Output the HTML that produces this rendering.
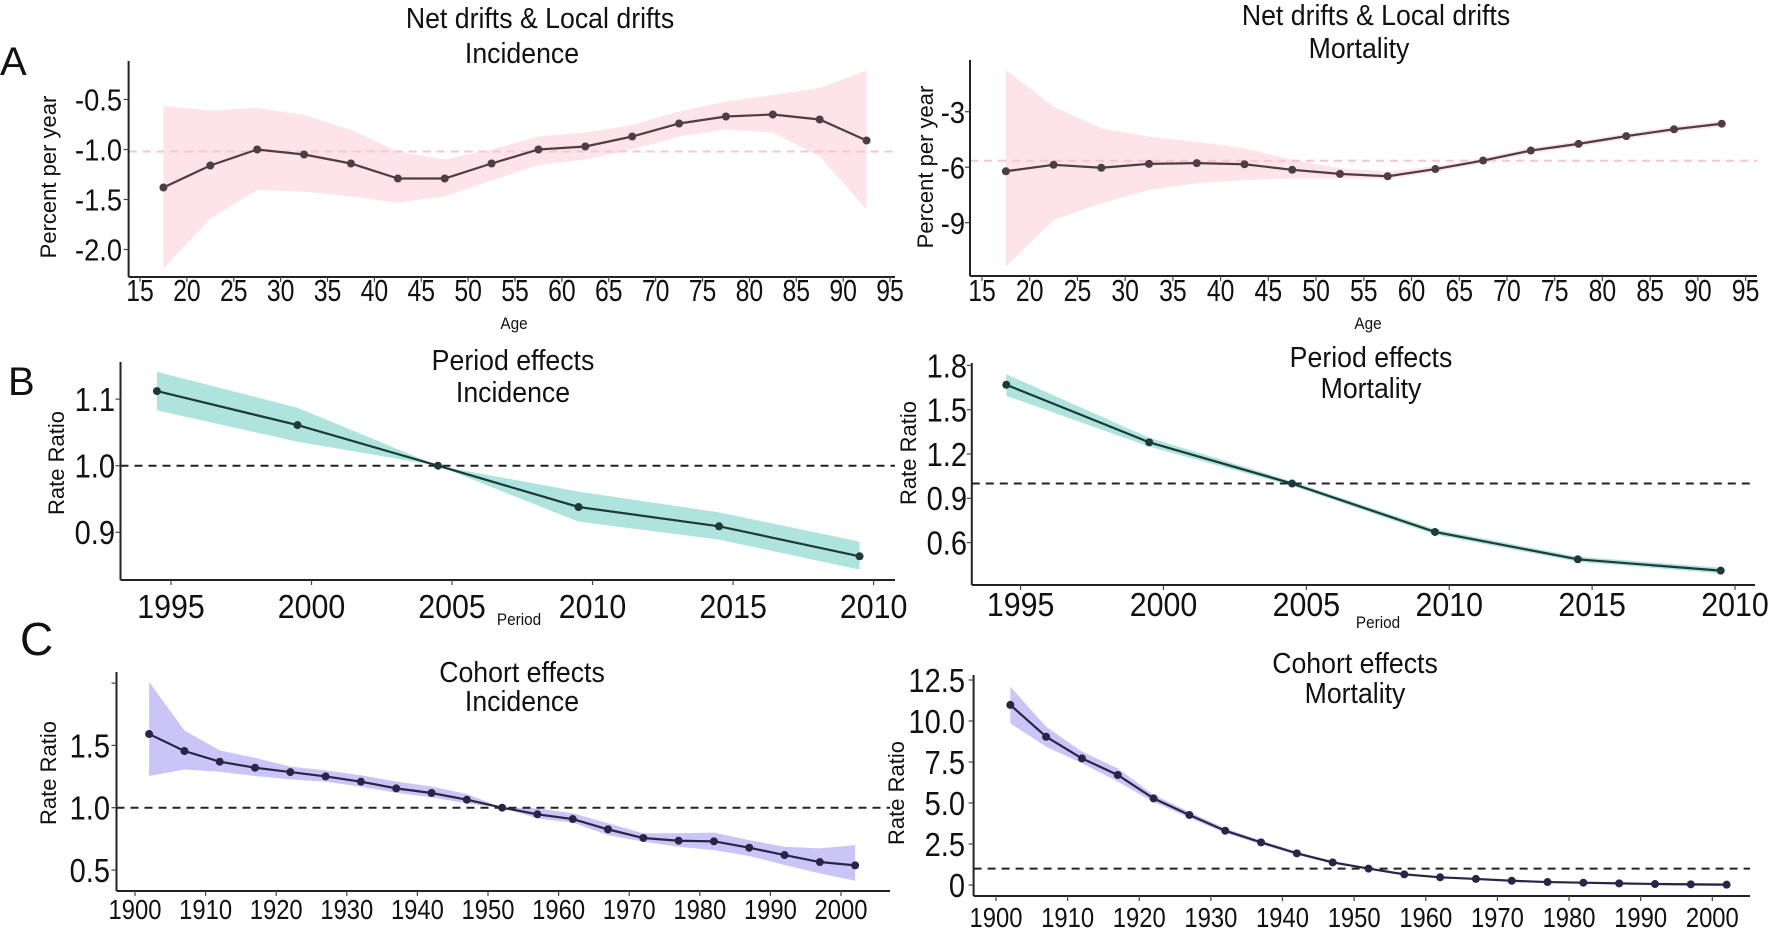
<!DOCTYPE html>
<html><head><meta charset="utf-8"><style>
html,body{margin:0;padding:0;background:#fff;}
svg{display:block;font-family:"Liberation Sans",Arial,sans-serif;}
</style></head><body>
<svg id="fig" width="1771" height="931" viewBox="0 0 1771 931" xmlns="http://www.w3.org/2000/svg"></svg>
<script>
// ---- Data ----
const ageGroups = [17.5,22.5,27.5,32.5,37.5,42.5,47.5,52.5,57.5,62.5,67.5,72.5,77.5,82.5,87.5,92.5];
const incDrift = [-1.38,-1.16,-1.0,-1.05,-1.14,-1.29,-1.29,-1.14,-1.0,-0.97,-0.87,-0.74,-0.67,-0.65,-0.70,-0.91];
const incDriftHi = [-0.565,-0.61,-0.585,-0.655,-0.805,-1.02,-1.1,-1.0,-0.87,-0.83,-0.755,-0.62,-0.52,-0.455,-0.385,-0.21];
const incDriftLo = [-2.19,-1.69,-1.405,-1.42,-1.47,-1.53,-1.47,-1.31,-1.155,-1.1,-1.0,-0.87,-0.8,-0.83,-1.07,-1.6];
const incNetDrift = -1.02;
const morDrift = [-6.22,-5.87,-6.03,-5.82,-5.78,-5.84,-6.14,-6.36,-6.49,-6.10,-5.64,-5.10,-4.74,-4.32,-3.95,-3.65];
const morDriftHi = [-0.75,-2.73,-3.9,-4.35,-4.63,-4.98,-5.6,-6.05,-6.24,-5.95,-5.5,-4.95,-4.6,-4.18,-3.8,-3.5];
const morDriftLo = [-11.38,-8.85,-7.95,-7.23,-6.87,-6.69,-6.6,-6.6,-6.64,-6.25,-5.78,-5.25,-4.88,-4.46,-4.1,-3.8];
const morNetDrift = -5.65;
const ageTicks = [15,20,25,30,35,40,45,50,55,60,65,70,75,80,85,90,95];

const periods = [1994.5,1999.5,2004.5,2009.5,2014.5,2019.5];
const incPeriod = [1.112,1.061,1.0,0.938,0.909,0.864];
const incPeriodHi = [1.141,1.087,1.0,0.961,0.93,0.886];
const incPeriodLo = [1.083,1.036,1.0,0.916,0.889,0.844];
const morPeriod = [1.669,1.279,1.0,0.672,0.487,0.41];
const morPeriodHi = [1.74,1.31,1.015,0.69,0.505,0.43];
const morPeriodLo = [1.594,1.25,0.985,0.654,0.47,0.392];
const periodTickYears = [1995,2000,2005,2010,2015,2020];
const periodTickLabels = ["1995","2000","2005","2010","2015","2010"];

const cohorts = [1902,1907,1912,1917,1922,1927,1932,1937,1942,1947,1952,1957,1962,1967,1972,1977,1982,1987,1992,1997,2002];
const incCohort = [1.591,1.455,1.369,1.321,1.286,1.251,1.209,1.155,1.118,1.064,1.0,0.947,0.909,0.826,0.757,0.735,0.730,0.679,0.620,0.564,0.537];
const incCohortHi = [2.01,1.62,1.46,1.40,1.33,1.30,1.26,1.21,1.17,1.11,1.0,0.995,0.955,0.875,0.795,0.795,0.80,0.74,0.687,0.674,0.70];
const incCohortLo = [1.254,1.307,1.289,1.254,1.227,1.209,1.168,1.12,1.083,1.035,1.0,0.914,0.88,0.78,0.727,0.687,0.66,0.612,0.54,0.473,0.414];
const morCohort = [10.98,9.04,7.72,6.71,5.28,4.27,3.31,2.60,1.93,1.38,1.0,0.65,0.47,0.37,0.26,0.18,0.14,0.10,0.06,0.04,0.02];
const morCohortHi = [12.09,9.65,8.13,7.11,5.5,4.45,3.45,2.72,2.02,1.45,1.04,0.72,0.53,0.43,0.32,0.24,0.2,0.16,0.13,0.12,0.12];
const morCohortLo = [9.86,8.43,7.42,6.3,5.06,4.1,3.17,2.48,1.84,1.31,0.96,0.58,0.41,0.31,0.2,0.12,0.08,0.04,0.0,-0.04,-0.08];
const cohortTicks = [1900,1910,1920,1930,1940,1950,1960,1970,1980,1990,2000];

const incDriftYTicks = [-0.5,-1.0,-1.5,-2.0], incDriftYLabels=["-0.5","-1.0","-1.5","-2.0"];
const morDriftYTicks = [-3,-6,-9], morDriftYLabels=["-3","-6","-9"];
const incPeriodYTicks = [1.1,1.0,0.9], incPeriodYLabels=["1.1","1.0","0.9"];
const morPeriodYTicks = [1.8,1.5,1.2,0.9,0.6], morPeriodYLabels=["1.8","1.5","1.2","0.9","0.6"];
const incCohortYTicks = [2.0,1.5,1.0,0.5], incCohortYLabels=["","1.5","1.0","0.5"];
const morCohortYTicks = [12.5,10,7.5,5,2.5,0], morCohortYLabels=["12.5","10.0","7.5","5.0","2.5","0"];

// ---- helpers ----
const NS="http://www.w3.org/2000/svg";
const svg=document.getElementById('fig');
function mk(tag,attrs,parent){const e=document.createElementNS(NS,tag);for(const k in attrs)e.setAttribute(k,attrs[k]);(parent||svg).appendChild(e);return e;}
function txt(s,x,y,size,anchor,sx,parent,rot){
  const t=mk('text',{x:0,y:0,'font-size':size,'text-anchor':anchor||'middle',fill:'#111',
    transform:`translate(${x},${y})`+(rot?` rotate(${rot})`:'')+` scale(${sx||1},1)`},parent);
  t.textContent=s;return t;
}
function lin(d0,d1,r0,r1){return v=>r0+(v-d0)*(r1-r0)/(d1-d0);}

function panel(o){
  const g=mk('g',{});
  
  
  const X=o.x,Y=o.y;
  let pts=o.xs.map((v,i)=>X(v)+','+Y(o.hi[i]));
  for(let i=o.xs.length-1;i>=0;i--)pts.push(X(o.xs[i])+','+Y(o.lo[i]));
  const band=mk('polygon',{points:pts.join(' '),fill:o.band,stroke:'none'},g);
  
  
  const rl=mk('line',{x1:o.ax,x2:o.axR,y1:Y(o.ref),y2:Y(o.ref),stroke:o.refColor,'stroke-width':2,'stroke-dasharray':'8,6'},g);
  
  
  const ln=mk('polyline',{points:o.xs.map((v,i)=>X(v)+','+Y(o.vals[i])).join(' '),fill:'none',stroke:o.line,'stroke-width':2.2},g);
  
  
  o.xs.forEach((v,i)=>{
    const c=mk('circle',{cx:X(v),cy:Y(o.vals[i]),r:4,fill:o.line},g);
    
    
  });
  const ya=mk('line',{x1:o.ax,x2:o.ax,y1:o.top,y2:o.bot,stroke:'#222','stroke-width':2},g);
  
  
  const xa=mk('line',{x1:o.ax,x2:o.axR,y1:o.bot,y2:o.bot,stroke:'#222','stroke-width':2},g);
  
  
  o.xt.forEach((v,i)=>{
    mk('line',{x1:X(v),x2:X(v),y1:o.bot,y2:o.bot+5,stroke:'#444','stroke-width':1.2},g);
    const t=txt(o.xl[i],X(v),o.xlY,o.xfs,'middle',o.xsx,g);
    
    
  });
  o.yt.forEach((v,i)=>{
    mk('line',{x1:o.ax-5,x2:o.ax,y1:Y(v),y2:Y(v),stroke:'#444','stroke-width':1.2},g);
    const t=txt(o.yl[i],o.ylX,Y(v)+o.yfs*0.36,o.yfs,'end',o.ysx,g);
    
    
  });
  const yt=txt(o.ytitle,o.ytX,o.ytY,o.ytfs,'middle',1,g,-90);
  
  
  if(o.xtitle){const xt=txt(o.xtitle,o.xtX,o.xtY,17,'middle',0.9,g);
    
    }
  const t1=txt(o.t1,o.tX,o.t1Y,29,'middle',0.92,g);
  
  
  const t2=txt(o.t2,o.tX2||o.tX,o.t2Y,29,'middle',0.92,g);
  
  
}
const pink='#fde3ea', pinkLine='#4e3d44', teal='#aee4dd', tealLine='#1d3a38', purp='#cbc4f6', purpLine='#2a2446';

panel({name:'panel-a-incidence-drift',xs:ageGroups,vals:incDrift,hi:incDriftHi,lo:incDriftLo,ref:incNetDrift,refColor:'#f8c6cf',
 x:lin(15,95,140,890),y:lin(-0.5,-2.0,99.5,249.5),band:pink,line:pinkLine,ax:128.6,axR:895,top:61,bot:277,
 xt:ageTicks,xl:ageTicks.map(String),xlY:301,xfs:31,xsx:0.8,yt:incDriftYTicks,yl:incDriftYLabels,ylX:122,yfs:31,ysx:0.88,
 ytitle:'Percent per year',ytX:56,ytY:177,ytfs:22,xtitle:'Age',xtX:514,xtY:329,t1:'Net drifts & Local drifts',t2:'Incidence',tX:540,tX2:522,t1Y:28,t2Y:63});
panel({name:'panel-a-mortality-drift',xs:ageGroups,vals:morDrift,hi:morDriftHi,lo:morDriftLo,ref:morNetDrift,refColor:'#f8c6cf',
 x:lin(15,95,982,1745.6),y:lin(-3,-9,111.7,222.7),band:pink,line:pinkLine,ax:970,axR:1757,top:60,bot:276,
 xt:ageTicks,xl:ageTicks.map(String),xlY:301,xfs:31,xsx:0.8,yt:morDriftYTicks,yl:morDriftYLabels,ylX:965,yfs:31,ysx:0.88,
 ytitle:'Percent per year',ytX:933,ytY:167,ytfs:22,xtitle:'Age',xtX:1368,xtY:329,t1:'Net drifts & Local drifts',t2:'Mortality',tX:1376,tX2:1359,t1Y:25,t2Y:58});
panel({name:'panel-b-incidence-period',xs:periods,vals:incPeriod,hi:incPeriodHi,lo:incPeriodLo,ref:1.0,refColor:'#222',
 x:lin(1995,2020,171,873.6),y:lin(1.0,0.9,465.7,532.3),band:teal,line:tealLine,ax:120.5,axR:895,top:362,bot:580,
 xt:periodTickYears,xl:periodTickLabels,xlY:618,xfs:33,xsx:0.92,yt:incPeriodYTicks,yl:incPeriodYLabels,ylX:115,yfs:33,ysx:0.88,
 ytitle:'Rate Ratio',ytX:64,ytY:463,ytfs:22,xtitle:'Period',xtX:519,xtY:625,t1:'Period effects',t2:'Incidence',tX:513,t1Y:370,t2Y:402});
panel({name:'panel-b-mortality-period',xs:periods,vals:morPeriod,hi:morPeriodHi,lo:morPeriodLo,ref:1.0,refColor:'#222',
 x:lin(1995,2020,1020.6,1735),y:lin(0.9,1.8,498.3,365.4),band:teal,line:tealLine,ax:971.8,axR:1755,top:363,bot:585,
 xt:periodTickYears,xl:periodTickLabels,xlY:616,xfs:33,xsx:0.92,yt:morPeriodYTicks,yl:morPeriodYLabels,ylX:967,yfs:33,ysx:0.88,
 ytitle:'Rate Ratio',ytX:916,ytY:453,ytfs:22,xtitle:'Period',xtX:1378,xtY:628,t1:'Period effects',t2:'Mortality',tX:1371,t1Y:367,t2Y:398});
panel({name:'panel-c-incidence-cohort',xs:cohorts,vals:incCohort,hi:incCohortHi,lo:incCohortLo,ref:1.0,refColor:'#222',
 x:lin(1900,2000,135,841),y:lin(1.0,0.5,807.7,870),band:purp,line:purpLine,ax:116.5,axR:890,top:672,bot:891,
 xt:cohortTicks,xl:cohortTicks.map(String),xlY:919,xfs:28,xsx:0.85,yt:incCohortYTicks,yl:incCohortYLabels,ylX:110,yfs:33,ysx:0.88,
 ytitle:'Rate Ratio',ytX:56,ytY:773,ytfs:22,t1:'Cohort effects',t2:'Incidence',tX:522,t1Y:682,t2Y:711});
panel({name:'panel-c-mortality-cohort',xs:cohorts,vals:morCohort,hi:morCohortHi,lo:morCohortLo,ref:1.0,refColor:'#222',
 x:lin(1900,2000,996,1712.3),y:lin(0,12.5,885,680),band:purp,line:purpLine,ax:973.6,axR:1750,top:675,bot:896,
 xt:cohortTicks,xl:cohortTicks.map(String),xlY:927,xfs:28,xsx:0.85,yt:morCohortYTicks,yl:morCohortYLabels,ylX:965,yfs:33,ysx:0.88,
 ytitle:'Rate Ratio',ytX:904,ytY:793,ytfs:22,t1:'Cohort effects',t2:'Mortality',tX:1355,t1Y:673,t2Y:703});

[['A',0,75,40],['B',8,395,40],['C',20,655,46]].forEach(([s,x,y,f])=>{
  const t=txt(s,x,y,f,'start',1);
  
  
});
</script>
</body></html>
